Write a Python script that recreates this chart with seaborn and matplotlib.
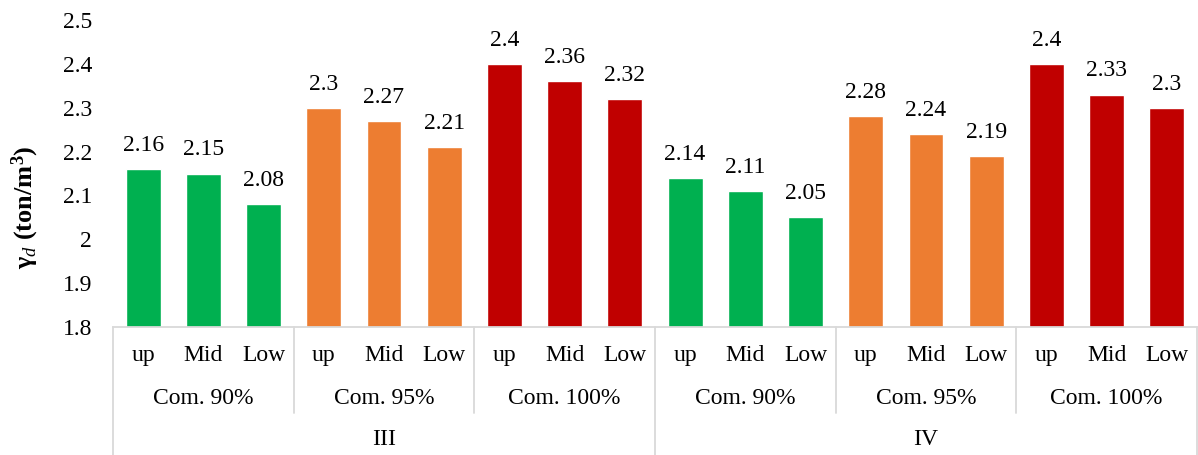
import matplotlib
matplotlib.use("Agg")
import matplotlib.pyplot as plt
import matplotlib.transforms as mtransforms
import seaborn as sns
import pandas as pd

# Dry density per sampling level, compaction degree and zone
levels = ["up", "Mid", "Low"]
compaction = ["Com. 90%", "Com. 95%", "Com. 100%"]
zones = ["III", "IV"]
values = [2.16, 2.15, 2.08, 2.3, 2.27, 2.21, 2.4, 2.36, 2.32,
          2.14, 2.11, 2.05, 2.28, 2.24, 2.19, 2.4, 2.33, 2.3]
com_colors = ["#00B050", "#ED7D31", "#C00000"]

sns.set_theme(style="white")
plt.rcParams["font.family"] = ["Liberation Serif", "DejaVu Serif"]
plt.rcParams["text.color"] = "black"
plt.rcParams["axes.labelcolor"] = "black"
plt.rcParams["mathtext.fontset"] = "custom"
plt.rcParams["mathtext.rm"] = "Liberation Serif"
plt.rcParams["mathtext.it"] = "Liberation Serif:italic"
plt.rcParams["mathtext.bf"] = "Liberation Serif:bold"

rows = []
for zi, z in enumerate(zones):
    for ci, c in enumerate(compaction):
        for li, l in enumerate(levels):
            rows.append({"key": f"{z}|{c}|{l}", "zone": z, "com": c, "level": l,
                         "value": values[zi * 9 + ci * 3 + li]})
df = pd.DataFrame(rows)
order = list(df["key"])
palette = {k: com_colors[compaction.index(k.split("|")[1])] for k in order}

FS = 17

fig = plt.figure(figsize=(11.98, 4.55), dpi=100)
ax = fig.add_axes([113 / 1198, 1 - 327 / 455, (1197 - 113) / 1198, 307 / 455])

sns.barplot(data=df, x="key", y="value", hue="key", order=order,
            palette=palette, width=0.58, legend=False, ax=ax, saturation=1)

ax.set_ylim(1.8, 2.5)
ax.set_yticks([1.8, 1.9, 2.0, 2.1, 2.2, 2.3, 2.4, 2.5])
ax.set_yticklabels(["1.8", "1.9", "2", "2.1", "2.2", "2.3", "2.4", "2.5"])
ax.set_xlim(-0.5, len(order) - 0.5)
ax.set_xlabel("")
ax.set_xticks(range(len(order)))
ax.set_xticklabels(df["level"])
ax.tick_params(axis="both", length=0, labelsize=FS, colors="black")
ax.tick_params(axis="x", pad=13)
ax.tick_params(axis="y", pad=15)

for s in ["top", "right", "left"]:
    ax.spines[s].set_visible(False)
ax.spines["bottom"].set_color("#D9D9D9")
ax.spines["bottom"].set_linewidth(1.3)

ax.set_ylabel(r"$\mathbf{\gamma}_{\mathit{d}}$ (ton/m$^{\mathbf{3}}$)",
              fontsize=19, fontweight="bold", color="black", va="center")
ax.yaxis.set_label_coords(-0.081, 0.39)

# value labels on top of each bar
for i, v in enumerate(df["value"]):
    ax.text(i, v + 0.03, f"{v:g}", ha="center", va="bottom", fontsize=FS, color="black")

# multi-level category axis
trans = mtransforms.blended_transform_factory(ax.transData, ax.transAxes)
sep_kw = dict(color="#D9D9D9", lw=1.3, transform=trans, clip_on=False)
n = len(order)
for zi, z in enumerate(zones):
    for ci, c in enumerate(compaction):
        center = zi * 9 + ci * 3 + 1
        ax.text(center, -0.232, c, ha="center", va="center", fontsize=FS,
                color="black", transform=trans)
    ax.text(zi * 9 + 4, -0.368, z, ha="center", va="center", fontsize=FS,
            color="black", transform=trans)

for b in range(0, n + 1, 3):
    x = b - 0.5
    if b % 9 == 0:
        ax.plot([x, x], [0, -0.42], **sep_kw)
    else:
        ax.plot([x, x], [0, -0.28], **sep_kw)

fig.savefig("out.png", dpi=100)
